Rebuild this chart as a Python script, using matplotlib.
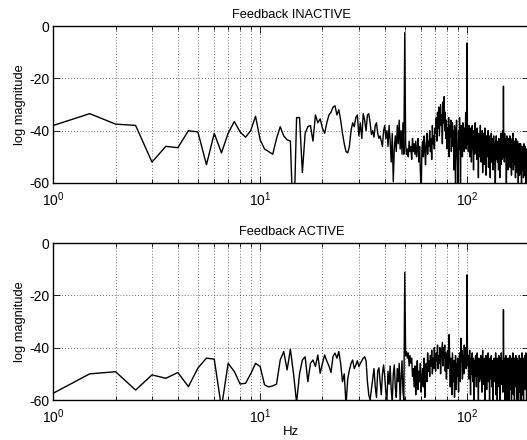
import numpy as np
import matplotlib
matplotlib.use("Agg")
import matplotlib.pyplot as plt
from matplotlib.ticker import LogLocator, FixedLocator, NullFormatter

plt.rcParams['font.family'] = ['Liberation Sans', 'DejaVu Sans']
plt.rcParams['mathtext.fontset'] = 'custom'
plt.rcParams['mathtext.rm'] = 'Liberation Sans'
plt.rcParams['mathtext.it'] = 'Liberation Sans:italic'
plt.rcParams['axes.unicode_minus'] = False

# frequency bins, 0.5 Hz apart, 1 .. 200.5 Hz
freq_start, freq_step, n_bins = 1.0, 0.5, 400

titles = ["Feedback INACTIVE", "Feedback ACTIVE"]
xlabel = "Hz"
ylabel = "log magnitude"
yticks = [-60, -40, -20, 0]

# log magnitude, Feedback INACTIVE (10 bins per row, row k starts at 1+5k Hz)
inactive = [
    -38, -33.5, -37.5, -38, -52, -46, -46.5, -40, -40.5, -53,
    -41, -48.5, -41, -36.5, -40.5, -42.5, -40, -34.5, -43.5, -47,
    -48, -49, -43, -38.5, -42, -43.5, -44, -80, -35, -35,
    -56, -41, -38.5, -38, -44, -34, -37, -35.5, -39, -41,
    -37, -34, -33, -31, -30.5, -34, -32, -36, -41, -45,
    -48, -48.5, -46, -40, -37, -38.5, -35, -34, -42, -37,
    -43, -33.5, -36, -40, -34, -33.5, -37, -41.5, -40, -42.5,
    -38, -37, -41, -43, -42, -44, -46, -40, -38, -43,
    -40, -46, -38, -44, -52, -41, -59.5, -47, -42, -48,
    -38, -45, -36, -47, -40, -49, -37, -49, -2.5, -45,
    -49, -47, -50, -44, -48, -46, -51, -43, -48, -45,
    -49, -44, -50, -47, -43, -52, -46, -55, -65, -48,
    -44, -50, -42, -47, -53, -45, -41, -49, -44, -46,
    -40, -48, -43, -51, -38, -45, -42, -47, -39, -41,
    -35, -44, -33, -39, -31, -42, -36, -30, -38, -34,
    -45, -29, -37, -27, -40, -33, -43, -36, -47, -39,
    -45, -35, -50, -38, -42, -36, -48, -41, -37, -46,
    -40, -55, -38, -44, -65, -42, -36, -48, -52, -65,
    -40, -47, -35, -44, -65, -38, -46, -41, -50, -37,
    -45, -42, -48, -39, -44, -33, -47, -40, -6.5, -45,
    -40, -48, -38, -43, -50, -41, -46, -39, -52, -44,
    -38, -47, -42, -55, -40, -45, -49, -37, -43, -48,
    -42, -51, -39, -46, -44, -58, -41, -47, -43, -50,
    -38, -45, -52, -42, -47, -40, -56, -44, -48, -41,
    -53, -45, -39, -49, -44, -57, -42, -47, -50, -43,
    -48, -40, -54, -46, -42, -51, -45, -58, -44, -47,
    -41, -52, -46, -49, -43, -55, -48, -42, -50, -45,
    -53, -47, -65, -44, -49, -42, -51, -46, -48, -52,
    -44, -47, -55, -43, -50, -46, -58, -45, -49, -41,
    -53, -47, -44, -51, -46, -40, -48, -50, -23, -47,
    -44, -52, -41, -49, -45, -50, -43, -53, -65, -46,
    -42, -51, -48, -44, -55, -47, -43, -50, -45, -49,
    -42, -54, -46, -51, -44, -48, -57, -45, -50, -43,
    -52, -47, -41, -55, -49, -45, -53, -48, -44, -51,
    -46, -58, -43, -49, -54, -45, -50, -47, -56, -44,
    -52, -48, -60, -46, -53, -49, -45, -57, -50, -47,
    -54, -45, -51, -49, -56, -65, -48, -52, -46, -55,
    -49, -53, -47, -58, -50, -45, -54, -48, -57, -51,
    -46, -55, -49, -53, -60, -47, -52, -56, -50, -54,
    -48, -57, -51, -45, -59, -50, -53, -62, -49, -55,
]

# log magnitude, Feedback ACTIVE
active = [
    -57.4, -50, -49.2, -56.2, -50.4, -51.7, -49.5, -54.9, -47.8, -44,
    -44.4, -63, -46, -49.1, -53.9, -53.6, -50, -46, -47.2, -54.2,
    -55, -54.6, -53.9, -44.7, -41.5, -48.5, -40.6, -50, -61, -50,
    -44.7, -43.5, -53, -46, -44.7, -47.2, -42.8, -49.8, -46, -42.8,
    -45.1, -47, -49.5, -43.4, -42.1, -44, -41.5, -46, -53, -50,
    -62, -52, -48.5, -46, -44.7, -48, -46.6, -45, -47.2, -46,
    -45, -44, -43.5, -45, -53, -58, -60, -56, -52, -48,
    -55, -59, -49, -47.7, -53, -58, -50, -46.6, -51, -57,
    -60, -49, -54, -47, -56, -61, -50, -46.6, -55, -59,
    -48, -53, -46, -61, -51, -45, -57, -60, -11.2, -43,
    -41.5, -44, -42, -47, -43, -46, -44, -51, -48, -55,
    -47, -58, -50, -45, -56, -49, -53, -46, -57, -52,
    -48, -55, -44, -59, -50, -46, -53, -42, -49, -45,
    -51, -43, -47, -41, -50, -44, -48, -40, -46, -49,
    -42, -45, -39, -48, -43, -46, -40, -50, -44, -41,
    -38, -47, -40, -44, -39, -49, -42, -52, -45, -41,
    -48, -43, -35, -46, -55, -44, -50, -58, -42, -47,
    -53, -45, -59, -48, -43, -56, -46, -51, -44, -50,
    -57, -47, -42, -53, -49, -36.4, -45, -41, -52, -46,
    -43, -50, -39, -47, -44, -40, -48, -42, -12.2, -44,
    -47, -43, -52, -45, -41, -49, -58, -44, -50, -46,
    -42, -53, -47, -44, -60, -48, -45, -51, -43, -49,
    -55, -46, -42, -50, -47, -61, -44, -48, -53, -45,
    -49, -43, -52, -46, -57, -45, -41, -50, -47, -54,
    -44, -48, -61, -46, -51, -43, -49, -56, -45, -50,
    -47, -42, -53, -48, -45, -60, -44, -50, -46, -52,
    -43, -49, -55, -45, -48, -62, -46, -51, -44, -47,
    -53, -45, -49, -42, -58, -47, -50, -44, -61, -48,
    -45, -52, -46, -43, -55, -49, -47, -60, -44, -51,
    -48, -42, -54, -46, -50, -45, -57, -47, -25.5, -46,
    -52, -48, -44, -61, -47, -50, -43, -55, -49, -46,
    -60, -45, -51, -47, -44, -53, -48, -62, -46, -50,
    -43, -49, -56, -45, -51, -47, -60, -44, -48, -53,
    -46, -42, -50, -58, -45, -49, -44, -61, -47, -52,
    -45, -50, -43, -55, -48, -46, -60, -44, -51, -47,
    -53, -45, -49, -62, -46, -50, -43, -57, -48, -45,
    -51, -47, -60, -44, -49, -54, -46, -42, -58, -48,
    -45, -52, -47, -61, -44, -50, -46, -55, -43, -49,
    -56, -46, -48, -42, -53, -47, -60, -45, -50, -44,
    -49, -43, -55, -47, -41, -52, -46, -39, -48, -44,
]

freq = freq_start + freq_step * np.arange(n_bins)

W, H = 527, 440
fig = plt.figure(figsize=(W / 100, H / 100), dpi=100)

left = 53.3 / W
width = 476.0 / W
axes_tops = [26, 243]
axes_h = 157
grid_style = dict(linestyle=(0, (1, 2.5)), color='0.25', lw=0.6)

for series, title, top in zip([inactive, active], titles, axes_tops):
    ax = fig.add_axes([left, 1 - (top + axes_h) / H, width, axes_h / H])
    ax.plot(freq, series, color='black', lw=1.0)
    ax.set_xscale('log')
    ax.set_xlim(1, 200)
    ax.set_ylim(-60, 0)
    ax.set_yticks(yticks)
    ax.xaxis.set_major_locator(FixedLocator([1, 10, 100]))
    ax.set_xticklabels([r'$\mathregular{10^{0}}$', r'$\mathregular{10^{1}}$', r'$\mathregular{10^{2}}$'])
    ax.xaxis.set_minor_locator(LogLocator(base=10, subs=np.arange(2, 10), numticks=20))
    ax.xaxis.set_minor_formatter(NullFormatter())
    ax.tick_params(which='both', direction='in', top=True, right=True, labelsize=10)
    ax.tick_params(axis='x', which='major', pad=5)
    ax.tick_params(axis='y', which='major', pad=3)
    ax.tick_params(which='major', length=5, width=0.6)
    ax.tick_params(which='minor', length=3, width=0.6)
    ax.grid(True, which='major', axis='both', **grid_style)
    ax.grid(True, which='minor', axis='x', **grid_style)
    for s in ax.spines.values():
        s.set_linewidth(1.0)
    ax.set_title(title, fontsize=9.3, pad=6)
    ax.set_ylabel(ylabel, fontsize=9.3, labelpad=2)
    if top == axes_tops[-1]:
        ax.set_xlabel(xlabel, fontsize=9.5, labelpad=0)

fig.savefig("out.png", dpi=100)
